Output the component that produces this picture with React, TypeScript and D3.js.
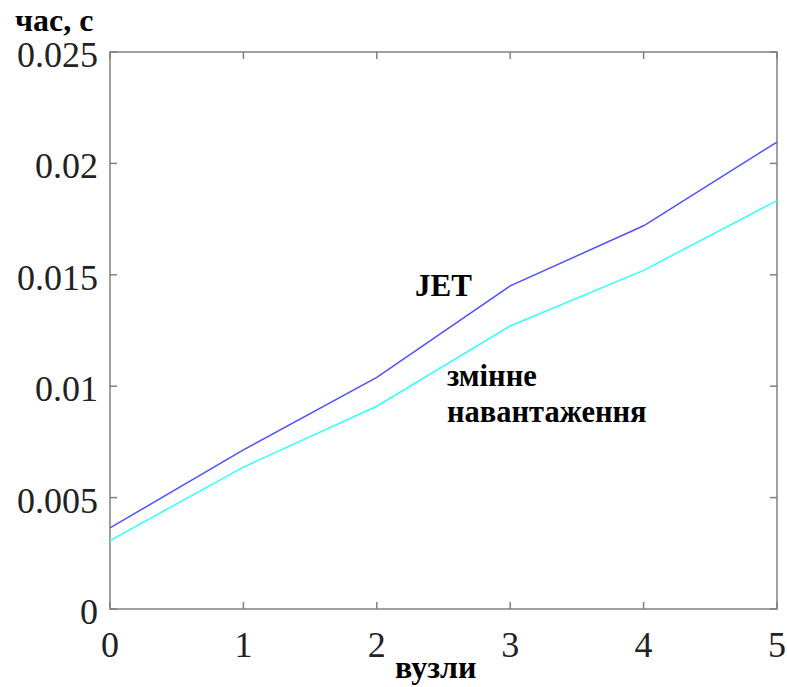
import React from "react";
import * as d3 from "d3";

const nodes = [0, 1, 2, 3, 4, 5];
const jetTimes = [0.00364, 0.00714, 0.0104, 0.0145, 0.0172, 0.02096];
const varLoadTimes = [0.00307, 0.00637, 0.0091, 0.0127, 0.0152, 0.01833];
const yTicks = [0, 0.005, 0.01, 0.015, 0.02, 0.025];
const yTickLabels = ["0", "0.005", "0.01", "0.015", "0.02", "0.025"];
const xTicks = [0, 1, 2, 3, 4, 5];

export default function App() {
  const W = 787, H = 687;
  const left = 110, right = 777, top = 52, bottom = 609;
  const x = d3.scaleLinear().domain([0, 5]).range([left, right]);
  const y = d3.scaleLinear().domain([0, 0.025]).range([bottom, top]);
  const line = d3.line<number>().x((_, i) => x(nodes[i])).y((d) => y(d));
  const serif = "'Liberation Serif', 'Times New Roman', serif";
  const axisColor = "#808080";
  const tl = 7;
  return (
    <svg width={W} height={H} style={{ position: "absolute", left: 0, top: 0, background: "#fff" }}>
      <rect x={left} y={top} width={right - left} height={bottom - top} fill="none" stroke={axisColor} strokeWidth={1.5} />
      {xTicks.map((t) => (
        <g key={"x" + t}>
          <line x1={x(t)} x2={x(t)} y1={bottom} y2={bottom - tl} stroke={axisColor} strokeWidth={1.5} />
          <line x1={x(t)} x2={x(t)} y1={top} y2={top + tl} stroke={axisColor} strokeWidth={1.5} />
          <text x={x(t)} y={657} textAnchor="middle" fontFamily={serif} fontSize={36} fill="#222">{t}</text>
        </g>
      ))}
      {yTicks.map((t, i) => (
        <g key={"y" + t}>
          <line x1={left} x2={left + tl} y1={y(t)} y2={y(t)} stroke={axisColor} strokeWidth={1.5} />
          <line x1={right} x2={right - tl} y1={y(t)} y2={y(t)} stroke={axisColor} strokeWidth={1.5} />
          <text x={98} y={y(t) + 15} textAnchor="end" fontFamily={serif} fontSize={36} fill="#222">{yTickLabels[i]}</text>
        </g>
      ))}
      <path d={line(varLoadTimes) || ""} fill="none" stroke="#33ffff" strokeWidth={1.5} />
      <path d={line(jetTimes) || ""} fill="none" stroke="#5050ff" strokeWidth={1.5} />
      <text x={15} y={31} fontFamily={serif} fontWeight="bold" fontSize={32} fill="#000">час, с</text>
      <text x={395} y={678} fontFamily={serif} fontWeight="bold" fontSize={32} fill="#000">вузли</text>
      <text x={415} y={296} fontFamily={serif} fontWeight="bold" fontSize={31} fill="#000">JET</text>
      <text x={447} y={386} fontFamily={serif} fontWeight="bold" fontSize={30.5} fill="#000">змінне</text>
      <text x={447} y={422} fontFamily={serif} fontWeight="bold" fontSize={30.5} fill="#000">навантаження</text>
    </svg>
  );
}
